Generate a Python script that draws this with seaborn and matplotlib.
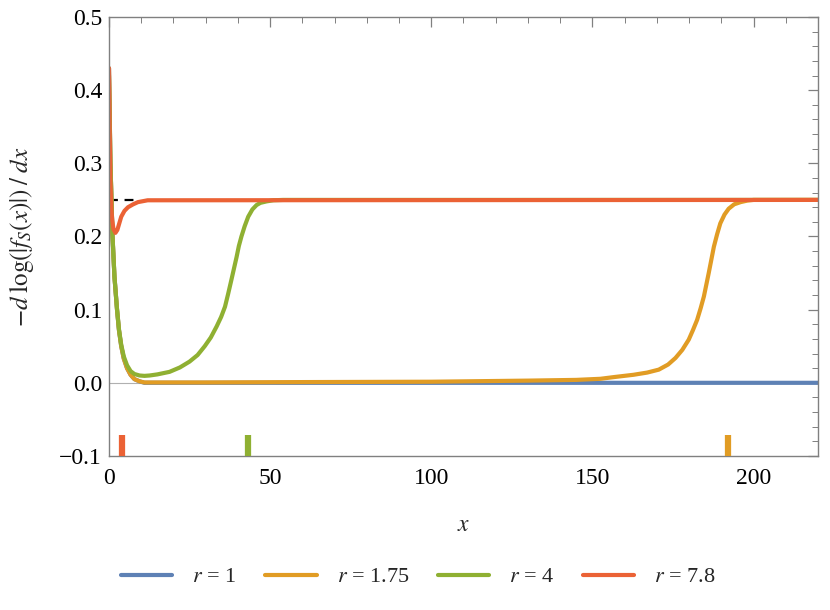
import numpy as np
import pandas as pd
import matplotlib
matplotlib.use("Agg")
import matplotlib.pyplot as plt
import seaborn as sns
from matplotlib.ticker import MultipleLocator
from matplotlib.lines import Line2D

# ---- data ----
labels = ["r = 1", "r = 1.75", "r = 4", "r = 7.8"]
colors = ["#5E81B5", "#E19C24", "#8FB032", "#EB6235"]

x_r1 = [0, 0.45, 1.1, 1.7, 2.5, 3.1, 3.8, 4.6, 5.6, 6.7, 7.9, 9.5, 11, 220]
y_r1 = [0.43, 0.30, 0.20, 0.145, 0.10, 0.072, 0.05, 0.033, 0.02, 0.011, 0.005, 0.002, 0.0, 0.0]

x_r175 = [0, 0.45, 1.1, 1.7, 2.5, 3.1, 3.8, 4.6, 5.6, 6.7, 7.9, 9.5, 11, 30, 60, 100,
          130, 145, 152.5, 157, 162.8, 167, 170.6, 173.5, 175.8, 177.9, 179.9, 181.2,
          182.5, 183.6, 184.6, 186.1, 186.9, 187.7, 188.7, 189.7, 191, 192.3, 194,
          196, 198, 200, 220]
y_r175 = [0.43, 0.30, 0.20, 0.145, 0.10, 0.072, 0.05, 0.033, 0.02, 0.011, 0.005, 0.002,
          0.0005, 0.0005, 0.001, 0.0015, 0.003, 0.004, 0.0055, 0.008, 0.011, 0.014,
          0.018, 0.025, 0.034, 0.045, 0.059, 0.072, 0.086, 0.102, 0.118, 0.150, 0.168,
          0.186, 0.203, 0.218, 0.230, 0.238, 0.244, 0.247, 0.249, 0.25, 0.25]

x_r4 = [0, 0.45, 1.1, 1.7, 2.5, 3.1, 3.8, 4.6, 5.6, 6.7, 7.9, 9.5, 11, 12.6, 15, 18.8,
        22, 25, 27.5, 29.7, 31.6, 33.4, 34.8, 36, 37, 38, 39.6, 40.3, 41.1, 42.1, 43.2,
        44.5, 45.8, 47, 48.9, 51, 54, 220]
y_r4 = [0.42, 0.30, 0.20, 0.145, 0.10, 0.073, 0.052, 0.036, 0.024, 0.016, 0.012, 0.010,
        0.0095, 0.0100, 0.0115, 0.015, 0.021, 0.029, 0.038, 0.050, 0.062, 0.077, 0.090,
        0.104, 0.122, 0.141, 0.172, 0.187, 0.200, 0.214, 0.227, 0.237, 0.243, 0.246,
        0.248, 0.2495, 0.25, 0.25]

x_r78 = [0, 0.2, 0.4, 0.7, 1.0, 1.4, 2.0, 2.6, 3.2, 3.8, 4.8, 5.9, 7.5, 9, 12, 220]
y_r78 = [0.43, 0.35, 0.28, 0.24, 0.222, 0.210, 0.205, 0.209, 0.218, 0.227, 0.235,
         0.240, 0.244, 0.247, 0.2495, 0.25]

asymptote = 0.25
asym_x = [0, 9]
marker_x = [4.0, 43.2, 192.0]
marker_colors = ["#EB6235", "#8FB032", "#E19C24"]

xticks = [0, 50, 100, 150, 200]
yticks = [-0.1, 0.0, 0.1, 0.2, 0.3, 0.4, 0.5]

# ---- plotting ----
sns.set_style("white")
plt.rcParams["font.family"] = ["Liberation Serif", "DejaVu Serif"]
plt.rcParams["mathtext.fontset"] = "stix"

fig = plt.figure(figsize=(8.3, 6.1), dpi=100)
ax = fig.add_axes([0.1313, 0.2525, 0.8542, 0.7196])

ax.axhline(0, color="#b0b0b0", lw=0.8, zorder=0)

series = [(x_r1, y_r1), (x_r175, y_r175), (x_r4, y_r4), (x_r78, y_r78)]
for (xs, ys), lab, c in zip(series, labels, colors):
    df = pd.DataFrame({"x": xs, "y": ys})
    sns.lineplot(data=df, x="x", y="y", ax=ax, color=c, lw=3.0, legend=False,
                 estimator=None, sort=True, solid_joinstyle="round")

ax.plot(asym_x, [asymptote, asymptote], color="black", lw=1.6, ls=(0, (4, 3)), zorder=1)

ax.vlines(marker_x, -0.1, -0.071, colors=marker_colors, lw=4.5, zorder=5)

ax.set_xlim(0, 220)
ax.set_ylim(-0.1, 0.5)
ax.set_xticks(xticks)
ax.set_yticks(yticks)
ax.set_xticklabels([str(t) for t in xticks])
ax.set_yticklabels([f"{t:.1f}".replace("-", "\u2212") for t in yticks])
ax.xaxis.set_minor_locator(MultipleLocator(10))
ax.yaxis.set_minor_locator(MultipleLocator(0.02))
ax.tick_params(which="both", direction="in", top=True, right=True, colors="#808080",
               labelcolor="black", labelsize=17)
ax.tick_params(which="major", length=7, width=0.9)
ax.tick_params(which="minor", length=4, width=0.7)
ax.tick_params(axis="x", which="major", pad=9)
ax.tick_params(axis="y", which="major", pad=5)
for s in ax.spines.values():
    s.set_color("#808080")
    s.set_linewidth(1.0)

ax.set_xlabel("$x$", fontsize=17)
ax.xaxis.set_label_coords(0.5, -0.159)
ax.xaxis.label.set_va("center")
ax.set_ylabel(r"$-d\;\log(|f_S(x)|)\;/\;dx$", fontsize=18)
ax.yaxis.set_label_coords(-0.124, 0.5)
ax.yaxis.label.set_va("center")

handles = [Line2D([0], [0], color=c, lw=3.0) for c in colors]
leg_labels = [r"$r$ = 1", r"$r$ = 1.75", r"$r$ = 4", r"$r$ = 7.8"]
fig.legend(handles, leg_labels, loc="center", bbox_to_anchor=(0.504, 0.054), ncol=4,
           frameon=False, fontsize=16, handlelength=2.3, handletextpad=0.9,
           columnspacing=1.3)

fig.savefig("out.png", dpi=100)
